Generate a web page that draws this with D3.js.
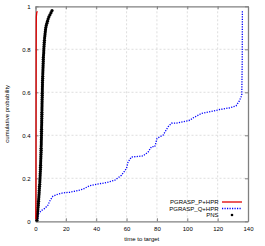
<!DOCTYPE html>
<html>
<head>
<meta charset="utf-8">
<script src="https://cdn.jsdelivr.net/npm/d3@7.9.0/dist/d3.min.js"></script>
<style>
  body { margin: 0; background: #fff; }
  svg { display: block; font-family: "Liberation Sans", Arial, sans-serif; }
</style>
</head>
<body>
<svg id="chart" width="265" height="246"></svg>
<script>
const xTicks = [0, 20, 40, 60, 80, 100, 120, 140];
const yTicks = [0, 0.2, 0.4, 0.6, 0.8, 1];
const yTickLabels = ['0', '0.2', '0.4', '0.6', '0.8', '1'];
const seriesNames = ['PGRASP_P+HPR', 'PGRASP_Q+HPR', 'PNS'];

// PGRASP_P+HPR: almost all runs finish right away
const redTime = [0.2, 0.3, 0.35, 0.4, 0.45, 0.5, 0.55, 0.8, 1.2];
const redProb = [0.01, 0.2, 0.4, 0.6, 0.8, 0.9, 0.95, 0.97, 0.977];

// PGRASP_Q+HPR
const blueTime = [1.5, 2.2, 3.8, 5.9, 8.1, 9.2, 9.9, 11.4, 14.7, 18.0, 22.5, 26.9, 31.2, 35.7, 40.1,
  46.7, 52.2, 56.6, 59.9, 61.0, 63.2, 70.9, 74.2, 76.4, 78.6, 80.1, 84.1, 87.4, 89.6, 92.9,
  101.7, 103.9, 109.4, 113.8, 121.5, 128.1, 132.1, 134.3, 135.9, 136.2, 136.3];
const blueProb = [0.01, 0.036, 0.050, 0.059, 0.074, 0.091, 0.101, 0.116, 0.126, 0.132, 0.135, 0.141, 0.149, 0.166, 0.172,
  0.180, 0.191, 0.214, 0.245, 0.276, 0.299, 0.304, 0.322, 0.347, 0.347, 0.386, 0.401, 0.440, 0.456, 0.457,
  0.470, 0.481, 0.502, 0.508, 0.520, 0.528, 0.537, 0.560, 0.586, 0.75, 0.977];

// PNS: sorted times to target, one per run
const pnsTime = [
  0.95, 1.05, 1.15, 1.3, 1.4, 1.55, 1.65, 1.8, 1.9, 2.0,
  2.1, 2.2, 2.3, 2.4, 2.45, 2.55, 2.65, 2.75, 2.85, 2.9,
  3.0, 3.05, 3.1, 3.2, 3.25, 3.3, 3.35, 3.4, 3.45, 3.5,
  3.55, 3.6, 3.65, 3.7, 3.7, 3.75, 3.8, 3.8, 3.85, 3.9,
  3.9, 3.95, 3.95, 4.0, 4.0, 4.05, 4.1, 4.1, 4.15, 4.15,
  4.2, 4.2, 4.25, 4.25, 4.3, 4.3, 4.35, 4.35, 4.4, 4.45,
  4.45, 4.5, 4.5, 4.55, 4.6, 4.6, 4.65, 4.7, 4.75, 4.8,
  4.85, 4.9, 4.95, 5.0, 5.05, 5.1, 5.15, 5.2, 5.3, 5.4,
  5.45, 5.5, 5.6, 5.7, 5.8, 5.9, 6.0, 6.15, 6.3, 6.45,
  6.6, 6.8, 7.1, 7.5, 7.9, 8.3, 8.8, 9.5, 10.2, 10.9];

const svg = d3.select('#chart');
const x = d3.scaleLinear().domain([0, 140]).range([35.5, 248]);
const y = d3.scaleLinear().domain([0, 1]).range([221.3, 6.3]);
const frameColor = '#808080';

// grid
svg.append('g')
  .selectAll('line')
  .data(xTicks.slice(1, -1))
  .join('line')
  .attr('x1', (d) => x(d)).attr('x2', (d) => x(d))
  .attr('y1', y(0)).attr('y2', y(1))
  .attr('stroke', '#d0d0d0').attr('stroke-width', 0.7).attr('stroke-dasharray', '2,2');
svg.append('g')
  .selectAll('line')
  .data(yTicks.slice(1, -1))
  .join('line')
  .attr('x1', x(0)).attr('x2', x(140))
  .attr('y1', (d) => y(d)).attr('y2', (d) => y(d))
  .attr('stroke', '#d0d0d0').attr('stroke-width', 0.7).attr('stroke-dasharray', '2,2');

// axes with inward ticks on all four sides
const tickLen = 3;
svg.append('g').attr('transform', `translate(0,${y(0)})`)
  .call(d3.axisBottom(x).tickValues(xTicks).tickSizeInner(-tickLen).tickSizeOuter(0).tickPadding(5));
svg.append('g').attr('transform', `translate(0,${y(1)})`)
  .call(d3.axisTop(x).tickValues(xTicks).tickSizeInner(-tickLen).tickSizeOuter(0).tickFormat(''));
svg.append('g').attr('transform', `translate(${x(0)},0)`)
  .call(d3.axisLeft(y).tickValues(yTicks).tickSizeInner(-tickLen).tickSizeOuter(0).tickPadding(5)
    .tickFormat((d, i) => yTickLabels[i]));
svg.append('g').attr('transform', `translate(${x(140)},0)`)
  .call(d3.axisRight(y).tickValues(yTicks).tickSizeInner(-tickLen).tickSizeOuter(0).tickFormat(''));

svg.selectAll('.domain').attr('stroke', frameColor).attr('stroke-width', 1.3);
svg.selectAll('.tick line').attr('stroke', frameColor).attr('stroke-width', 1);
svg.selectAll('.tick text').attr('font-size', 6).attr('fill', '#000')
  .attr('font-family', '"Liberation Sans", Arial, sans-serif');

// axis titles
svg.append('text')
  .attr('x', (x(0) + x(140)) / 2).attr('y', 241)
  .attr('text-anchor', 'middle').attr('font-size', 6)
  .text('time to target');
svg.append('text')
  .attr('transform', `translate(9,${(y(0) + y(1)) / 2}) rotate(-90)`)
  .attr('text-anchor', 'middle').attr('font-size', 6)
  .text('cumulative probability');

// series
const line = d3.line().x((d) => x(d[0])).y((d) => y(d[1]));
const bluePts = blueTime.map((t, i) => [t, blueProb[i]]);
svg.append('path').datum(bluePts)
  .attr('d', line).attr('fill', 'none')
  .attr('stroke', '#0000ff').attr('stroke-width', 1.3).attr('stroke-dasharray', '1.2,1.3');

// cumulative probability of the i-th sorted run
const pnsPts = pnsTime.map((t, i) => [t, (i + 0.5) / pnsTime.length * 0.985]);
svg.append('g').selectAll('circle')
  .data(pnsPts)
  .join('circle')
  .attr('cx', (d) => x(d[0])).attr('cy', (d) => y(d[1]))
  .attr('r', 1.6).attr('fill', '#000');

const redPts = redTime.map((t, i) => [t, redProb[i]]);
svg.append('path').datum(redPts)
  .attr('d', line).attr('fill', 'none')
  .attr('stroke', '#e00000').attr('stroke-width', 1.3);

// legend
const legendY = [202, 208.5, 215];
const legend = svg.append('g');
seriesNames.forEach((name, i) => {
  legend.append('text')
    .attr('x', 218.5).attr('y', legendY[i] + 2)
    .attr('text-anchor', 'end').attr('font-size', 6)
    .text(name);
});
legend.append('line')
  .attr('x1', 222).attr('x2', 242).attr('y1', legendY[0]).attr('y2', legendY[0])
  .attr('stroke', '#e00000').attr('stroke-width', 1.3);
legend.append('line')
  .attr('x1', 222).attr('x2', 242).attr('y1', legendY[1]).attr('y2', legendY[1])
  .attr('stroke', '#0000ff').attr('stroke-width', 1.3).attr('stroke-dasharray', '1.2,1.3');
legend.append('circle')
  .attr('cx', 232).attr('cy', legendY[2]).attr('r', 1.3).attr('fill', '#000');
</script>
</body>
</html>
